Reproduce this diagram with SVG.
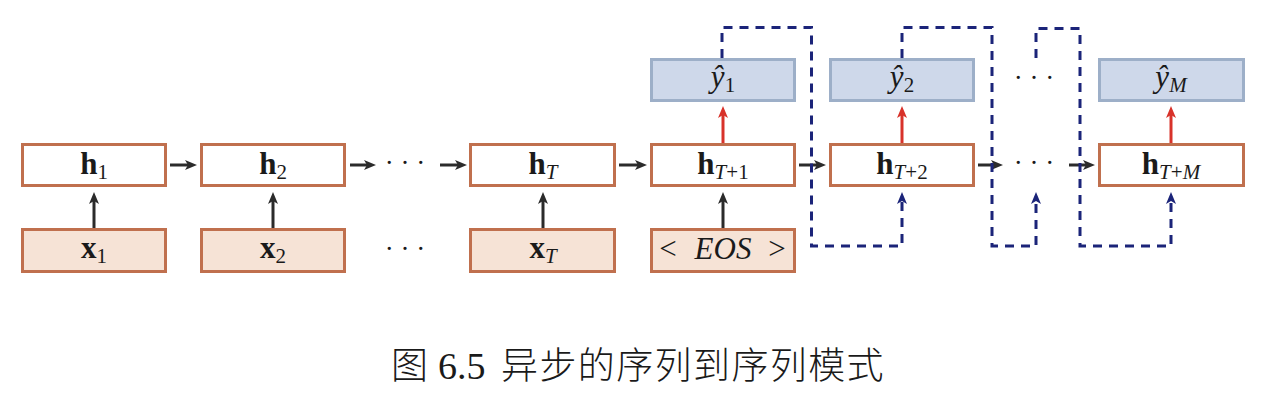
<svg xmlns="http://www.w3.org/2000/svg" width="1264" height="410" viewBox="0 0 1264 410">
<defs>
<style>
.h{fill:#ffffff;stroke:#C0704E;stroke-width:3}
.x{fill:#F6E3D6;stroke:#C0704E;stroke-width:3}
.y{fill:#CED8EA;stroke:#9DAFC8;stroke-width:3}
.lbl{font-family:"Liberation Serif","DejaVu Serif",serif;font-size:31px;fill:#1a1a1a;text-anchor:middle}
.b{font-weight:bold}
.it{font-style:italic}
.sub{font-size:21px}
.dots{font-family:"Liberation Serif","DejaVu Serif",serif;font-size:27px;fill:#1a1a1a;text-anchor:middle}
.blk{stroke:#2b2b2b;stroke-width:3;fill:none;marker-end:url(#ab)}
.red{stroke:#D8322A;stroke-width:3;fill:none;marker-end:url(#ar)}
.dash{stroke:#1B2479;stroke-width:3;fill:none;stroke-dasharray:9 7;marker-end:url(#an)}
.title{font-family:"Noto Sans CJK SC","Noto Sans CJK TC",sans-serif;font-size:37px;font-weight:300;fill:#1a1a1a}
.num{font-family:"Liberation Serif",serif;font-size:38px;fill:#1a1a1a}
</style>
<marker id="ab" viewBox="0 0 12 10" refX="3" refY="5" markerWidth="12" markerHeight="10" markerUnits="userSpaceOnUse" orient="auto">
<path d="M12,5 L0,0 L3,5 L0,10 Z" fill="#2b2b2b"/>
</marker>
<marker id="ar" viewBox="0 0 12 10" refX="3" refY="5" markerWidth="12" markerHeight="10" markerUnits="userSpaceOnUse" orient="auto">
<path d="M12,5 L0,0 L3,5 L0,10 Z" fill="#D8322A"/>
</marker>
<marker id="an" viewBox="0 0 12 10" refX="3" refY="5" markerWidth="12" markerHeight="10" markerUnits="userSpaceOnUse" orient="auto">
<path d="M12,5 L0,0 L3,5 L0,10 Z" fill="#1B2479"/>
</marker>
</defs>
<rect width="1264" height="410" fill="#ffffff"/>

<g id="connectors">
<line class="blk" x1="170" y1="165" x2="188" y2="165"/>
<line class="blk" x1="350" y1="165" x2="367" y2="165"/>
<line class="blk" x1="440" y1="165" x2="458" y2="165"/>
<line class="blk" x1="619" y1="165" x2="638" y2="165"/>
<line class="blk" x1="799" y1="165" x2="817" y2="165"/>
<line class="blk" x1="978" y1="165" x2="994" y2="165"/>
<line class="blk" x1="1069" y1="165" x2="1086" y2="165"/>
<line class="blk" x1="94" y1="228" x2="94" y2="201"/>
<line class="blk" x1="273" y1="228" x2="273" y2="201"/>
<line class="blk" x1="543" y1="228" x2="543" y2="201"/>
<line class="blk" x1="723" y1="228" x2="723" y2="201"/>
<line class="red" x1="723" y1="143" x2="723" y2="115"/>
<line class="red" x1="902" y1="143" x2="902" y2="115"/>
<line class="red" x1="1171" y1="143" x2="1171" y2="115"/>
<path class="dash" d="M722,58 V27.5 H811.5 V246 H902 V201"/>
<path class="dash" d="M902,58 V27.5 H992 V246 H1036 V201"/>
<path class="dash" d="M1036,58 V28.5 H1080 V246 H1171 V201"/>
</g>

<g id="dots">
<text class="dots" x="405" y="172">· · ·</text>
<text class="dots" x="405" y="258">· · ·</text>
<text class="dots" x="1034" y="172">· · ·</text>
<text class="dots" x="1034" y="87">· · ·</text>
</g>

<g id="h1"><rect class="h" x="22.5" y="144.5" width="143" height="41"/><text class="lbl" x="94" y="174"><tspan class="b">h</tspan><tspan class="sub" dy="5">1</tspan></text></g>
<g id="h2"><rect class="h" x="201.5" y="144.5" width="143" height="41"/><text class="lbl" x="273" y="174"><tspan class="b">h</tspan><tspan class="sub" dy="5">2</tspan></text></g>
<g id="hT"><rect class="h" x="470.5" y="144.5" width="144" height="41"/><text class="lbl" x="543" y="174"><tspan class="b">h</tspan><tspan class="sub it" dy="5">T</tspan></text></g>
<g id="hT1"><rect class="h" x="651.5" y="144.5" width="143" height="41"/><text class="lbl" x="723" y="174"><tspan class="b">h</tspan><tspan class="sub it" dy="5">T</tspan><tspan class="sub">+1</tspan></text></g>
<g id="hT2"><rect class="h" x="830.5" y="144.5" width="143" height="41"/><text class="lbl" x="902" y="174"><tspan class="b">h</tspan><tspan class="sub it" dy="5">T</tspan><tspan class="sub">+2</tspan></text></g>
<g id="hTM"><rect class="h" x="1099.5" y="144.5" width="144" height="41"/><text class="lbl" x="1171" y="174"><tspan class="b">h</tspan><tspan class="sub it" dy="5">T</tspan><tspan class="sub">+</tspan><tspan class="sub it">M</tspan></text></g>

<g id="x1"><rect class="x" x="22.5" y="229.5" width="143" height="42"/><text class="lbl" x="94" y="258"><tspan class="b">x</tspan><tspan class="sub" dy="5">1</tspan></text></g>
<g id="x2"><rect class="x" x="201.5" y="229.5" width="143" height="42"/><text class="lbl" x="273" y="258"><tspan class="b">x</tspan><tspan class="sub" dy="5">2</tspan></text></g>
<g id="xT"><rect class="x" x="470.5" y="229.5" width="144" height="42"/><text class="lbl" x="543" y="258"><tspan class="b">x</tspan><tspan class="sub it" dy="5">T</tspan></text></g>
<g id="eos"><rect class="x" x="651.5" y="229.5" width="143" height="42"/><text class="lbl" x="668" y="259">&lt;</text><text class="lbl it" x="723" y="259">EOS</text><text class="lbl" x="777" y="259">&gt;</text></g>

<g id="y1"><rect class="y" x="651.5" y="59.5" width="143" height="41"/><text class="lbl" x="723" y="87"><tspan class="it">ŷ</tspan><tspan class="sub" dy="5">1</tspan></text></g>
<g id="y2"><rect class="y" x="830.5" y="59.5" width="143" height="41"/><text class="lbl" x="902" y="87"><tspan class="it">ŷ</tspan><tspan class="sub" dy="5">2</tspan></text></g>
<g id="yM"><rect class="y" x="1099.5" y="59.5" width="144" height="41"/><text class="lbl" x="1171" y="87"><tspan class="it">ŷ</tspan><tspan class="sub it" dy="5">M</tspan></text></g>

<g id="caption">
<text class="title" x="391" y="379">图</text>
<text class="num" x="438" y="379">6.5</text>
<text class="title" x="501" y="379" letter-spacing="1.4">异步的序列到序列模式</text>
</g>
</svg>
